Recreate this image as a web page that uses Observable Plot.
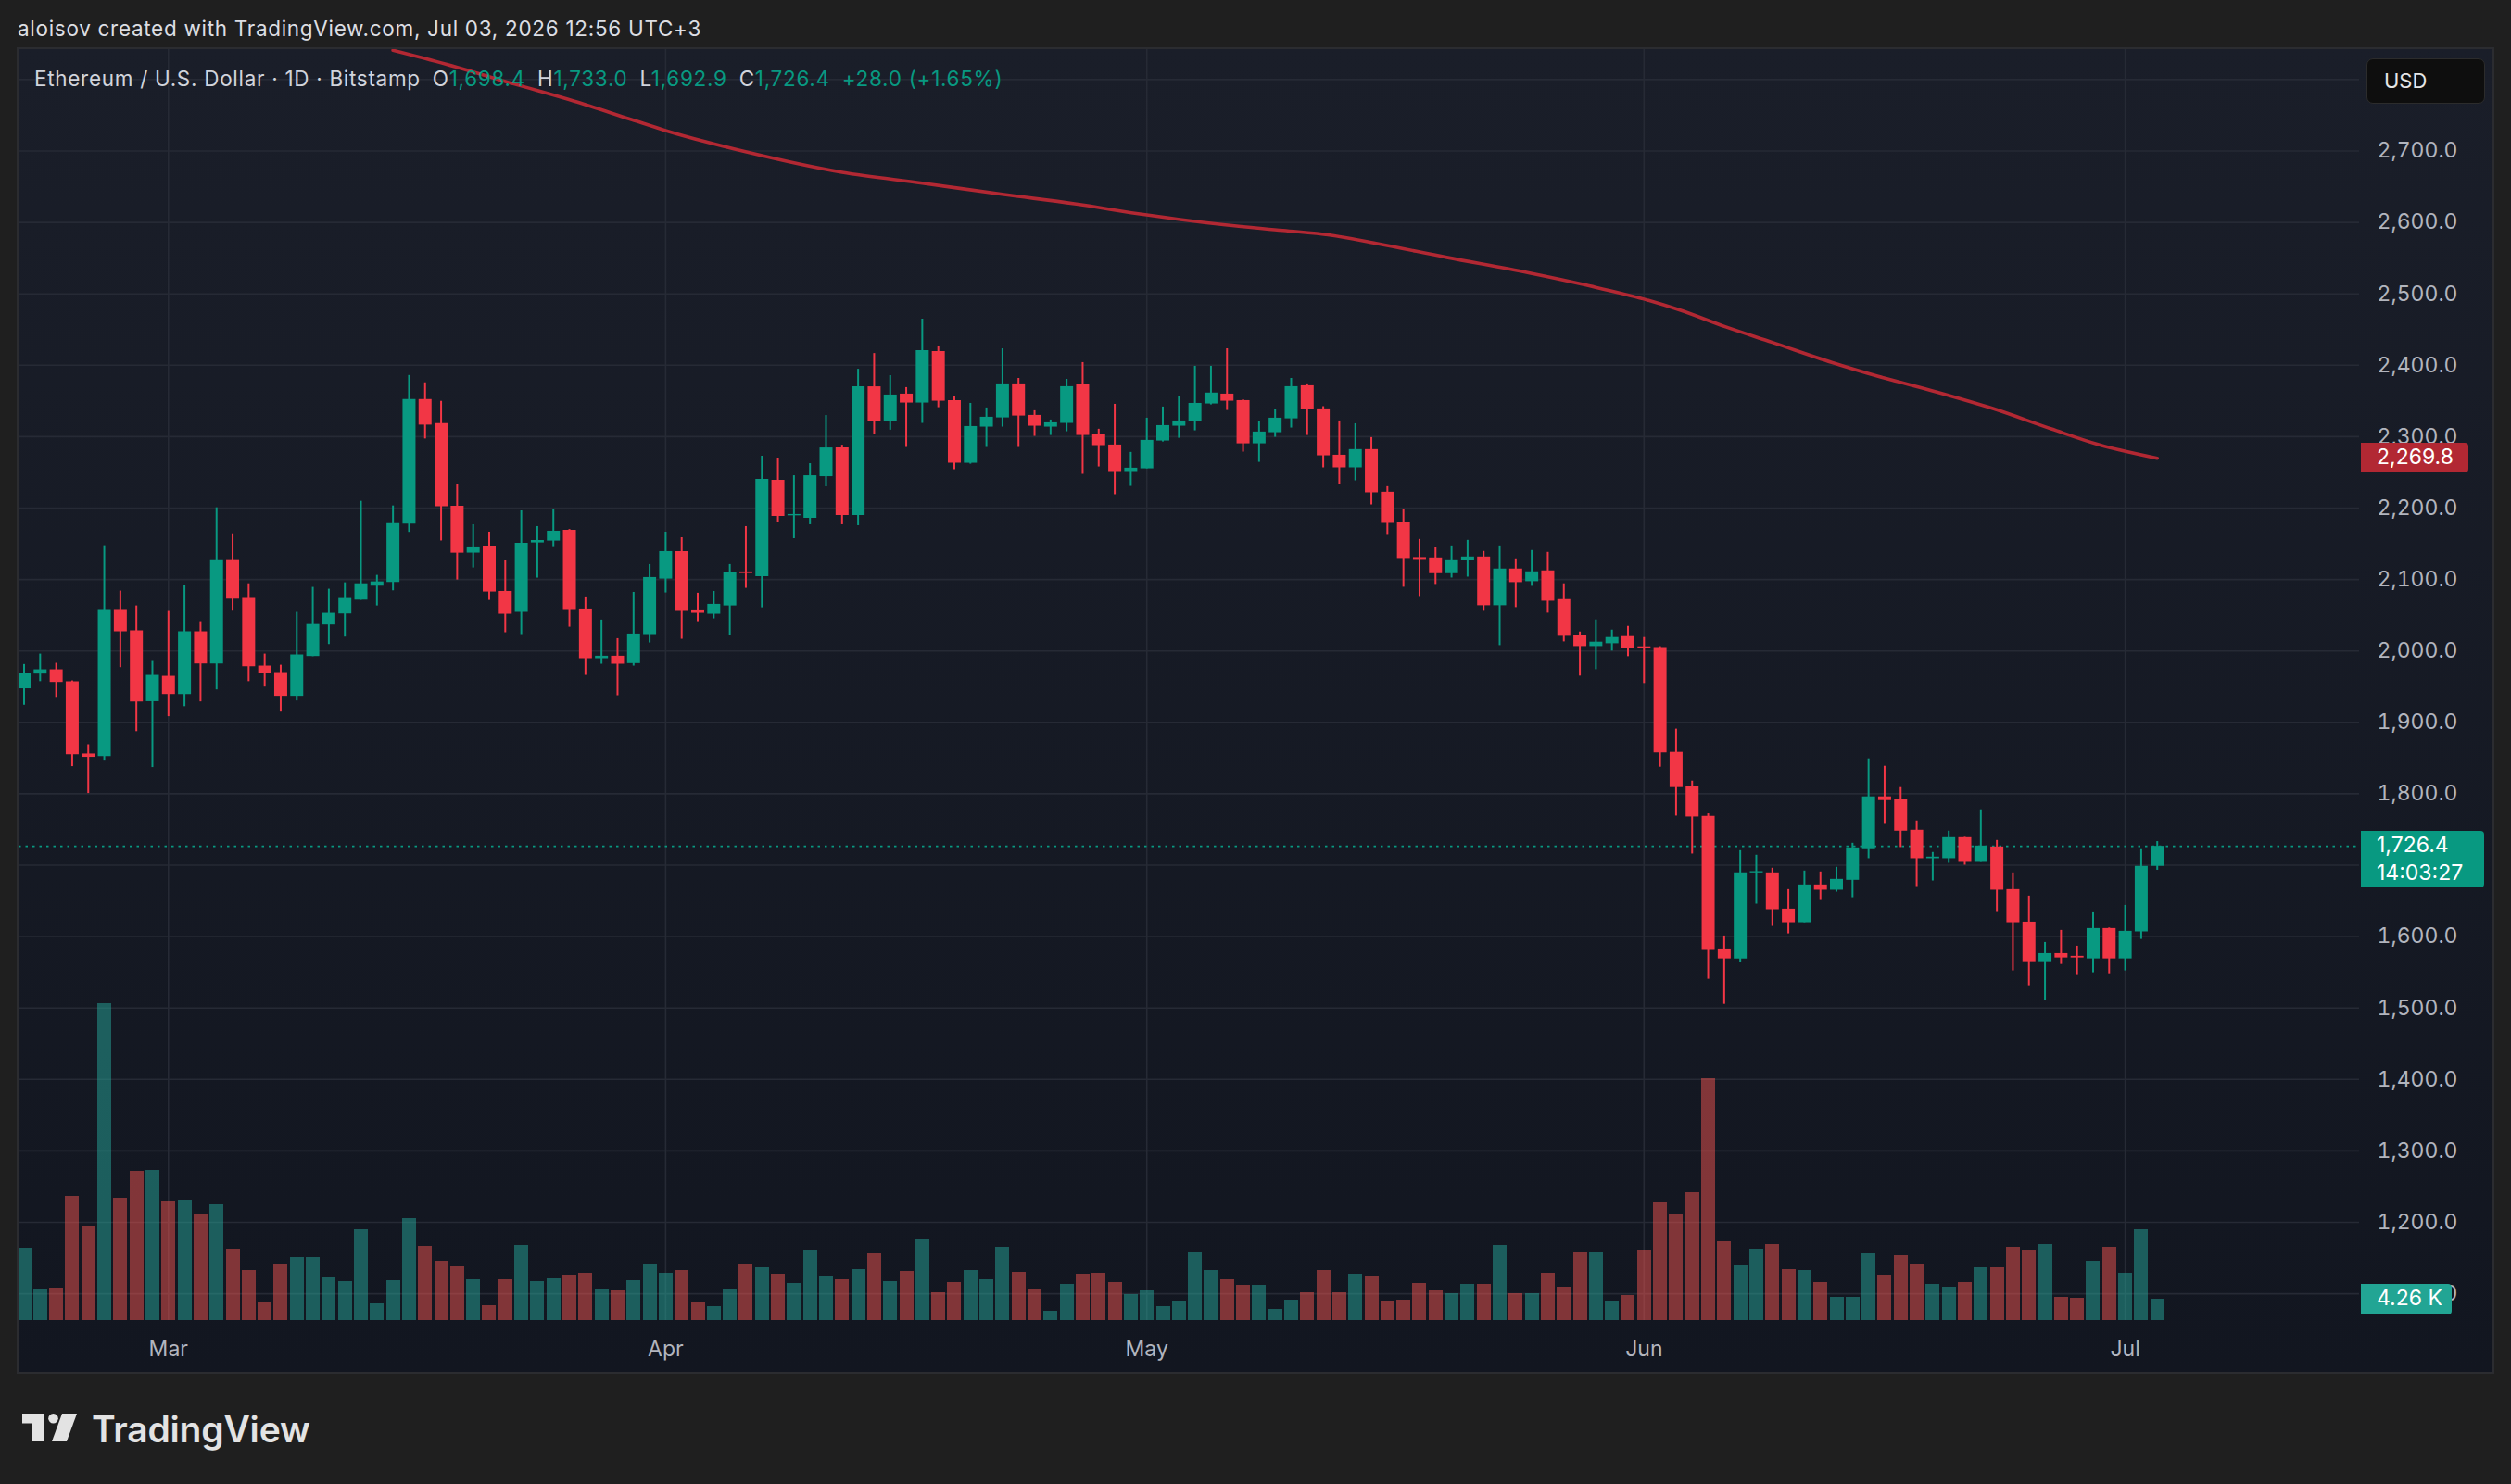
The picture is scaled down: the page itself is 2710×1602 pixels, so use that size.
<!DOCTYPE html>
<html>
<head>
<meta charset="utf-8">
<script src="https://cdn.jsdelivr.net/npm/d3@7"></script>
<script src="https://cdn.jsdelivr.net/npm/@observablehq/plot@0.6"></script>
<style>
  html, body { margin:0; padding:0; background:#1f1f1f; width:2710px; height:1602px; overflow:hidden;
    font-family: Inter, Roboto, "DejaVu Sans", sans-serif; }
  #header { position:absolute; left:19px; top:17px; font-size:22.5px; letter-spacing:0.7px; color:#dcdee3; white-space:nowrap; }
  #pane { position:absolute; left:20px; top:53px; width:2670px; height:1428px; overflow:hidden;
    background:linear-gradient(#1a1e29, #121620); box-shadow:0 0 0 2px #2b2c30; }
  #pane svg { position:absolute; left:0; top:0; }
  #legend { position:absolute; left:17px; top:18px; font-size:22.5px; letter-spacing:0.7px; color:#d1d4dc; white-space:nowrap; z-index:5; }
  #legend .v { color:#089981; }
  #legend .k { margin-left:13px; }
  .box { position:absolute; left:2528px; color:#ffffff; font-size:23px; padding-left:17px; box-sizing:border-box;
    border-radius:0 4px 4px 0; z-index:6; line-height:30px; white-space:nowrap; }
  #usd { position:absolute; left:2534px; top:10px; width:128px; height:49px; box-sizing:border-box; background:#0e0e0e;
    border:1px solid #2c2c2c; border-radius:7px; color:#e6e6e6; font-size:22px; line-height:47px; padding-left:18px; z-index:6; }
  #footer { position:absolute; left:24px; top:1522px; height:40px; }
  #footer span { position:absolute; left:75px; top:-3px; font-size:39px; font-weight:600; color:#e3e3e3; white-space:nowrap; letter-spacing:-0.2px; }
</style>
</head>
<body>
<div id="header">aloisov created with TradingView.com, Jul 03, 2026 12:56 UTC+3</div>
<div id="pane"></div>
<div id="footer">
  <svg width="60" height="31" viewBox="0 0 60 31" style="position:absolute;left:0;top:4px">
    <path d="M0,0 H23.6 V30 H11 V10.5 H0 Z" fill="#e3e3e3"/>
    <circle cx="33.5" cy="5.3" r="5.3" fill="#e3e3e3"/>
    <path d="M43,0 H59 L48,30 H32 Z" fill="#e3e3e3"/>
  </svg>
  <span>TradingView</span>
</div>
<script>
// ---------------- data ----------------
const startDate = "2026-02-20";           // first daily candle
const open = [1947,1967.6,1973.6,1956.8,1855.7,1852,2058,2028,1929,1964.5,1939,2026.8,1981.8,2127.8,2073.4,1978.8,1969.7,1936.5,1992.2,2036.3,2051.8,2071.2,2090.7,2095.9,2177.5,2352,2318.4,2202.6,2137,2146.8,2083.3,2054,2151.2,2153.8,2168.9,2058.7,1989.2,1992.6,1982.3,2022.9,2100.6,2139.1,2057.4,2051.4,2063,2110.6,2104.1,2238.9,2189.2,2185.7,2244,2284.2,2189.6,2369.8,2321.2,2359.6,2347.1,2419.2,2350.5,2262.8,2313.4,2326.3,2373.9,2329.8,2313.4,2318.6,2372.6,2302.6,2288.3,2251.2,2255,2293.9,2314.7,2321.2,2345.8,2359.6,2350.5,2290,2305.6,2325,2371.3,2338.9,2274,2256.4,2281.9,2222.2,2179.5,2130.7,2130.2,2108.2,2126.8,2131.5,2063.3,2114.7,2097,2112.1,2071.9,2021.4,2006.2,2010.1,2020.1,2005.8,2004.8,1858,1810,1768.4,1582.7,1568.8,1689.2,1689.2,1638.5,1619.5,1672.3,1665,1678.8,1723,1795.7,1791.8,1748.9,1709.1,1709.1,1738.5,1703.9,1725.5,1665.8,1620.3,1564.9,1576.2,1572.4,1568.8,1611.3,1568.8,1606.5,1698.4];
const high = [1981,1995.6,1982.7,1958,1868.6,2147.3,2083.8,2063,1985.3,2055.3,2091.6,2041,2200.4,2164,2094,1995.6,1980,2054,2089,2086.4,2095.4,2209.5,2105.8,2203,2385.7,2375.4,2349.5,2233.7,2176.7,2166.3,2126.1,2196.1,2174.1,2198.7,2170,2075.6,2043.2,2017.2,2082,2121,2166.3,2158.5,2080.8,2083.3,2121,2174.1,2272.6,2270,2245.3,2262.2,2329.6,2288,2394.4,2416.4,2385.5,2368.7,2464.6,2427,2355.7,2346.6,2340.2,2423.1,2381.6,2336.3,2323.3,2380.3,2403.7,2310.4,2345.3,2278,2325.9,2341.5,2355.7,2398.5,2398.5,2423.1,2351.8,2321.2,2337.6,2381.6,2373.9,2342,2322,2318.1,2298.7,2230,2197.6,2156.1,2144.5,2147,2154.8,2139.3,2147,2128.9,2140.6,2138,2094,2026.5,2043.4,2029.1,2034.3,2018.8,2006,1890.5,1817.7,1771.9,1600.9,1720.3,1713.9,1695.7,1665.8,1691.8,1690.5,1697,1730.7,1848.9,1838.5,1808.7,1761.9,1717.8,1747.6,1739,1777.5,1734.6,1689.2,1656.7,1591.8,1608.7,1586.6,1634.6,1612,1643.7,1723,1733];
const low = [1924,1957,1935,1838,1800.4,1847,1976.6,1887,1836.7,1908,1922,1928.7,1945.5,2055.7,1957,1949.4,1914.4,1930,1992,2009,2019.4,2071,2063,2084.2,2166,2296.8,2154,2099.3,2116.2,2070.8,2025.5,2022.9,2102,2146,2033.2,1965.8,1981.4,1937.3,1978.8,2011.2,2081.2,2016.4,2041,2044.9,2021.6,2087.7,2060.4,2179.2,2157.2,2176.7,2229.8,2176.7,2175.4,2303.7,2309.1,2284.9,2318.6,2340.6,2253.8,2261.5,2284.9,2313.4,2284.9,2300.4,2301.7,2306.9,2247.3,2257.6,2218.8,2230.4,2255,2292.6,2297.8,2308.2,2344.5,2336.7,2278.4,2264.1,2299.1,2312.1,2301.7,2256.4,2233,2238.2,2204.5,2161.8,2089.2,2076.2,2093.1,2102.1,2103.4,2055.5,2007.5,2060.7,2090.5,2052.9,2012.7,1964.8,1973.8,1999.8,1992,1954.4,1837.2,1768.8,1715.6,1540.3,1505.2,1563.6,1645.5,1614.3,1603.9,1619.5,1650.6,1662.3,1654.5,1709.1,1758.4,1724.7,1670.1,1677.9,1702.6,1700,1703.9,1635.1,1552,1531.2,1510.4,1561,1546.8,1549.4,1548,1552,1596.1,1692.9];
const close = [1968,1973.6,1955.9,1854.8,1851,2057.9,2026.8,1928.7,1965.8,1939,2026.8,1981.8,2127.8,2072.5,1978,1968.9,1936.5,1994.4,2037,2052.7,2073.4,2094,2096.7,2178.4,2352,2316.2,2202,2136.9,2145.6,2082.5,2051.4,2150.7,2154.6,2167.6,2057.9,1989.2,1992.6,1981.4,2023.7,2102.8,2139.1,2055.3,2052.7,2065.2,2109.3,2108.4,2240.2,2188.3,2191,2245.3,2284.2,2189.6,2369.8,2321.8,2358.3,2347.1,2420.5,2349.7,2262.8,2314.2,2327.2,2373.9,2328.9,2314.7,2319.4,2370,2301.7,2287.5,2251.2,2255.9,2294.8,2315.5,2322,2346.6,2361.1,2349.7,2290,2306.5,2325.9,2370,2338,2273.2,2256.4,2281.9,2221.4,2178.6,2129.4,2128.1,2108.2,2127.6,2131.5,2063.3,2114.7,2095.7,2110.8,2069.7,2020.5,2006.2,2012.3,2018.8,2003.6,2003.6,1857.1,1808.7,1767.5,1581.8,1568.8,1689.2,1690.9,1637.7,1619.5,1672.3,1665,1680.1,1724.2,1795.7,1790.5,1747.6,1709.1,1711.3,1738.5,1703.9,1726.8,1665,1619.5,1564.9,1576.2,1570.1,1570.1,1611.3,1568.8,1607.4,1698.3,1726.4];
// volume in thousands
const volume = [14.4,6.1,6.5,24.8,18.9,63.3,24.4,29.8,30.0,23.7,24.1,21.1,23.2,14.3,10.0,3.7,11.1,12.6,12.6,8.5,7.8,18.2,3.3,8.0,20.4,14.8,11.9,10.7,8.1,3.0,8.1,15.0,7.8,8.3,9.1,9.4,6.1,5.9,8.0,11.3,9.4,10.0,3.5,2.8,6.1,11.1,10.6,9.3,7.4,14.1,8.9,8.1,10.2,13.3,7.8,9.8,16.3,5.6,7.6,10.0,8.1,14.6,9.6,6.3,1.9,7.2,9.3,9.4,7.6,5.2,5.9,2.8,3.9,13.5,10.0,8.1,7.0,7.0,2.2,4.1,5.6,10.0,5.6,9.3,8.7,3.9,4.1,7.4,5.9,5.4,7.2,7.2,15.0,5.4,5.4,9.4,6.7,13.5,13.5,3.9,5.0,14.1,23.5,21.1,25.6,48.3,15.7,10.9,14.3,15.2,10.2,10.0,7.6,4.6,4.6,13.3,9.1,13.0,11.3,7.2,6.7,7.6,10.6,10.6,14.6,14.1,15.2,4.6,4.4,11.9,14.6,9.4,18.2,4.26];
// moving average line: day offset from startDate, value
const maDay = [23.0,26.3,30.6,34.3,37.9,40,45.1,51.0,56.0,61.1,65.5,70,74.9,78.5,81.4,84.3,88.7,93.8,97.4,101,103.2,106.1,109.0,112.7,115.6,119.2,122.8,126.4,129.3,133];
const maValue = [2841,2821.6,2793.5,2769.7,2743.7,2728.6,2698.3,2670.1,2655,2639,2626,2610.4,2596.5,2588.7,2582.3,2570.6,2551,2529.4,2512.1,2492.6,2477.5,2453.7,2432,2403.9,2384.4,2362.8,2339,2310.8,2289.2,2269.8];
const gridTicks = [1100,1200,1300,1400,1500,1600,1700,1800,1900,2000,2100,2200,2300,2400,2500,2600,2700,2800];
const labelTicks = [1100,1200,1300,1400,1500,1600,1800,1900,2000,2100,2200,2300,2400,2500,2600,2700];
const monthTicks = ["2026-03-01","2026-04-01","2026-05-01","2026-06-01","2026-07-01"];
const monthLabels = ["Mar","Apr","May","Jun","Jul"];
const countdown = "14:03:27";

// ---------------- build ----------------
const t0 = new Date(startDate + "T00:00:00Z");
const dayAt = f => new Date(t0.getTime() + f * 86400000);
const candles = open.map((o, i) => ({date: dayAt(i), open: o, high: high[i], low: low[i], close: close[i], volume: volume[i]}));
const up = candles.filter(d => d.close >= d.open);
const down = candles.filter(d => d.close < d.open);
const ma = maDay.map((d, i) => ({date: dayAt(d), value: maValue[i]}));
const months = monthTicks.map(s => new Date(s + "T00:00:00Z"));
const last = candles[candles.length - 1];
const maLast = maValue[maValue.length - 1];

const W = 2670, H = 1428, MR = 144, MB = 56;
const xDomain = [dayAt(-0.318), dayAt(145.61)];
const GREEN = "#089981", RED = "#f23645", GRID = "#262a35", TXT = "#b2b5be";
const fmt = d3.format(",.1f");

const pricePlot = Plot.plot({
  width: W, height: H, marginLeft: 0, marginRight: MR, marginTop: 0, marginBottom: MB,
  style: {background: "transparent", fontFamily: "Inter, Roboto, sans-serif"},
  x: {type: "utc", domain: xDomain},
  y: {domain: [1062.5, 2842]},
  marks: [
    Plot.gridY(gridTicks, {stroke: GRID, strokeOpacity: 1, strokeWidth: 1.6}),
    Plot.gridX(months, {stroke: GRID, strokeOpacity: 1, strokeWidth: 1.6}),
    Plot.axisY(labelTicks, {anchor: "right", tickSize: 0, tickPadding: 0, dx: 106, textAnchor: "end",
      tickFormat: fmt, fontSize: 23, color: TXT, label: null}),
    Plot.axisX(months, {anchor: "bottom", tickSize: 0, tickPadding: 22,
      tickFormat: d => monthLabels[months.findIndex(m => +m === +d)], fontSize: 23, color: TXT, label: null}),
    Plot.ruleY([last.close], {stroke: GREEN, strokeWidth: 1.6, strokeDasharray: "2.5,5"}),
    Plot.line(ma, {x: "date", y: "value", stroke: "#b22833", strokeWidth: 3.6, curve: "monotone-x"}),
    Plot.ruleX(up, {x: "date", y1: "low", y2: "high", stroke: GREEN, strokeWidth: 2}),
    Plot.ruleX(down, {x: "date", y1: "low", y2: "high", stroke: RED, strokeWidth: 2}),
    Plot.ruleX(up, {x: "date", y1: "open", y2: "close", stroke: GREEN, strokeWidth: 14}),
    Plot.ruleX(down, {x: "date", y1: "open", y2: "close", stroke: RED, strokeWidth: 14})
  ]
});

const volPlot = Plot.plot({
  width: W, height: H, marginLeft: 0, marginRight: MR, marginTop: 0, marginBottom: MB,
  style: {background: "transparent"},
  x: {type: "utc", domain: xDomain, axis: null},
  y: {domain: [0, 254], axis: null},
  marks: [
    Plot.ruleX(up, {x: "date", y1: 0, y2: "volume", stroke: "#26a69a", strokeOpacity: 0.5, strokeWidth: 15, shapeRendering: "crispEdges"}),
    Plot.ruleX(down, {x: "date", y1: 0, y2: "volume", stroke: "#ef5350", strokeOpacity: 0.5, strokeWidth: 15, shapeRendering: "crispEdges"})
  ]
});

const pane = document.getElementById("pane");
pane.appendChild(pricePlot);
pane.appendChild(volPlot);

// legend
const chg = last.close - last.open;
const legend = document.createElement("div");
legend.id = "legend";
legend.innerHTML = `Ethereum / U.S. Dollar · 1D · Bitstamp` +
  `<span class="k">O</span><span class="v">${fmt(last.open)}</span>` +
  `<span class="k">H</span><span class="v">${fmt(last.high)}</span>` +
  `<span class="k">L</span><span class="v">${fmt(last.low)}</span>` +
  `<span class="k">C</span><span class="v">${fmt(last.close)}</span>` +
  `<span class="k v">${chg >= 0 ? "+" : ""}${chg.toFixed(1)} (${chg >= 0 ? "+" : ""}${(chg / last.open * 100).toFixed(2)}%)</span>`;
pane.appendChild(legend);

// USD button
const usd = document.createElement("div");
usd.id = "usd"; usd.textContent = "USD";
pane.appendChild(usd);

// right-axis value boxes
const yP = pricePlot.scale("y"), yV = volPlot.scale("y");
function box(yc, h, w, bg, html) {
  const b = document.createElement("div");
  b.className = "box";
  b.style.top = (yc - 16) + "px"; b.style.height = h + "px"; b.style.width = w + "px";
  b.style.background = bg; b.innerHTML = html;
  pane.appendChild(b);
}
box(yP.apply(maLast), 32, 116, "#b22833", fmt(maLast));
box(yP.apply(last.close), 61, 133, GREEN, `${fmt(last.close)}<br>${countdown}`);
box(yV.apply(last.volume), 33, 98, "#22a594", `${last.volume.toFixed(2)} K`);
</script>
</body>
</html>
